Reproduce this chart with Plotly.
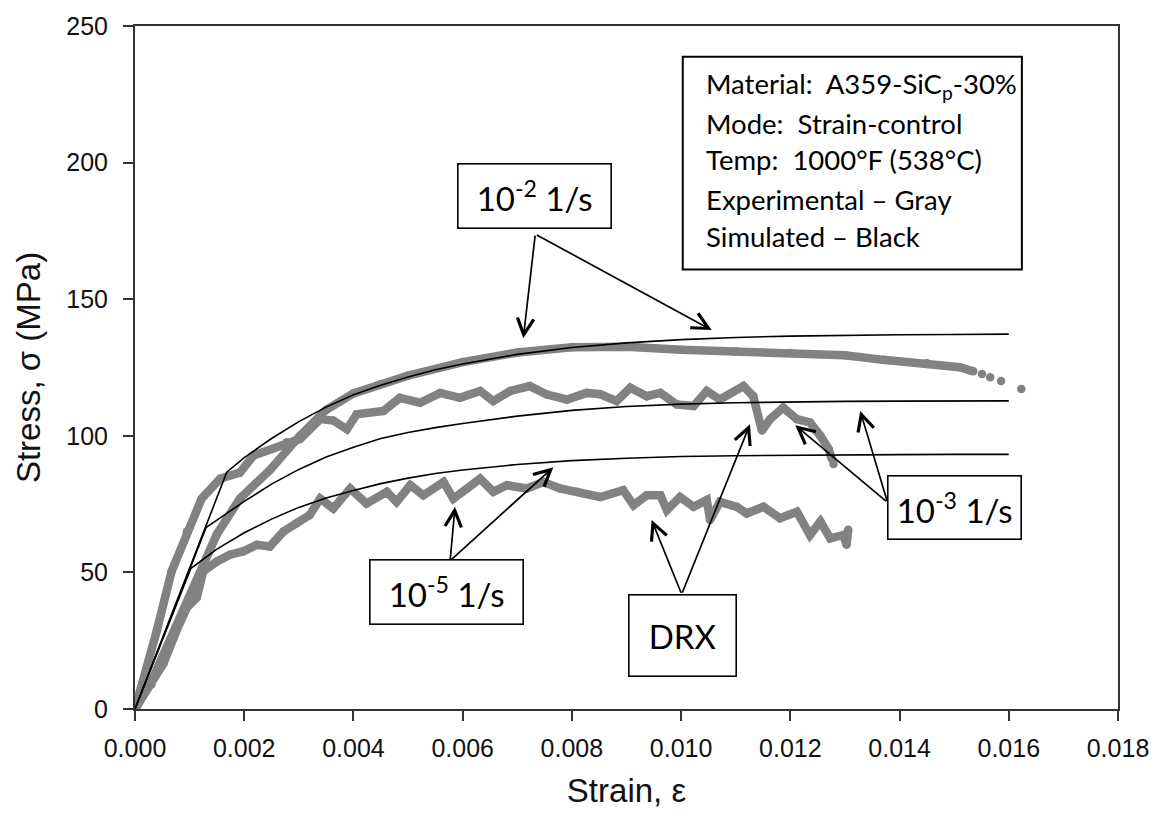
import plotly.graph_objects as go

# ---------------- data ----------------
# Simulated (black) curves
sim_e2_x = [0, 0.00168, 0.002, 0.0025, 0.003, 0.0035, 0.004, 0.0045, 0.005, 0.0055, 0.006, 0.007, 0.008,
            0.009, 0.010, 0.011, 0.012, 0.013, 0.014, 0.015, 0.016]
sim_e2_y = [0, 86.7, 92, 99, 105.2, 110.5, 115, 118.5, 121.5, 124.2, 126.3, 129.8, 132.3,
            134, 135.2, 136, 136.5, 136.8, 137, 137.1, 137.2]

sim_e3_x = [0, 0.0013, 0.0016, 0.002, 0.0025, 0.003, 0.0035, 0.004, 0.0045, 0.005, 0.0055, 0.006, 0.007,
            0.008, 0.009, 0.010, 0.011, 0.012, 0.013, 0.014, 0.015, 0.016]
sim_e3_y = [0, 66.4, 70.5, 76, 82.3, 87.7, 92.2, 95.8, 99, 101.2, 103, 104.5, 107.2,
            109.3, 110.7, 111.6, 112.1, 112.4, 112.6, 112.7, 112.8, 112.8]

sim_e5_x = [0, 0.00102, 0.0015, 0.002, 0.0025, 0.003, 0.0035, 0.004, 0.0045, 0.005, 0.0055, 0.006, 0.007,
            0.008, 0.009, 0.010, 0.011, 0.012, 0.013, 0.014, 0.015, 0.016]
sim_e5_y = [0, 51.4, 58.5, 64.5, 69.5, 73.8, 77.2, 80, 82.5, 84.5, 86.2, 87.5, 89.5,
            90.9, 91.8, 92.4, 92.7, 92.9, 93.0, 93.1, 93.2, 93.2]

# Experimental (gray) curves
exp_e2_x = [0, 0.0003, 0.0005, 0.00075, 0.001, 0.00125, 0.0015, 0.00192, 0.00247, 0.00302, 0.0035, 0.004,
            0.0045, 0.005, 0.006, 0.007, 0.008, 0.009, 0.010, 0.011, 0.012, 0.013, 0.0137, 0.0145,
            0.0151, 0.01535]
exp_e2_y = [0, 10, 19, 30, 41, 53, 64, 77, 87.5, 100, 109.5, 115.5,
            119, 122, 127, 130.5, 132.4, 132.6, 131.5, 130.9, 130.3, 129.5, 127.8, 126.6,
            125.1, 123.6]
exp_e2_tail_x = [0.01551, 0.01566, 0.01586, 0.01623]
exp_e2_tail_y = [122.6, 121.4, 120.1, 117.1]

exp_e3_x = [0, 0.0002, 0.0004, 0.00067, 0.00095, 0.00122, 0.00156, 0.00192, 0.00217, 0.00278, 0.00302,
            0.00339, 0.00363, 0.00388, 0.00406, 0.00455, 0.00485, 0.00522, 0.00559, 0.00595, 0.00632,
            0.00656, 0.00687, 0.00723, 0.00754, 0.00791, 0.00827, 0.00852, 0.00882, 0.00907, 0.00937,
            0.00962, 0.00992, 0.01023, 0.01047, 0.01071, 0.01114, 0.01132, 0.01148, 0.01163, 0.01187,
            0.01212, 0.01236, 0.01255, 0.0127, 0.01276]
exp_e3_y = [0, 14, 28.7, 50.4, 65, 77, 84.3, 86.5, 92.8, 97.6, 98.8,
            106.1, 105.6, 102.4, 107.9, 109.1, 113.9, 112.1, 115.7, 113.9, 116.4,
            112.7, 116.4, 118.2, 115.1, 113.3, 115.7, 115.2, 112.7, 117.6, 114.5,
            115.7, 111.5, 110.9, 116.4, 113.3, 118.2, 114.5, 101.9, 106.1, 110.3,
            106.1, 104.9, 100, 95.2, 91.5]
exp_e3_end_x = [0.01279]
exp_e3_end_y = [89.7]

exp_e5_x = [0, 0.0003, 0.00052, 0.00076, 0.00095, 0.00113, 0.00125, 0.0015, 0.00174, 0.00198, 0.00223,
            0.00247, 0.00272, 0.00296, 0.0032, 0.00339, 0.00363, 0.00394, 0.00424, 0.00461, 0.00479,
            0.00504, 0.00528, 0.00565, 0.00583, 0.00608, 0.00632, 0.00656, 0.00681, 0.00717, 0.00748,
            0.00778, 0.00809, 0.00852, 0.00894, 0.00913, 0.00937, 0.00962, 0.00974, 0.00998, 0.01023,
            0.01047, 0.01053, 0.01071, 0.01102, 0.0112, 0.01151, 0.01181, 0.01212, 0.01236, 0.01255,
            0.01273, 0.01297, 0.01303, 0.01306]
exp_e5_y = [0, 9, 16.6, 28.7, 37.1, 40.8, 50.4, 54, 56.5, 57.7, 60.1,
            59.5, 65, 68, 71, 77, 73.4, 80.7, 75.2, 79.5, 75.8,
            81.9, 78.2, 83.1, 77, 80.7, 84.3, 79.5, 81.9, 80.7, 83.1,
            80.7, 79.5, 77.6, 80.1, 74.6, 78.2, 78.2, 72.8, 77.6, 74,
            76.5, 69.2, 75.8, 74, 71.6, 74, 69.8, 72.2, 63.7, 68.6,
            62.5, 63.7, 60.1, 65.6]

x_ticks = [0.000, 0.002, 0.004, 0.006, 0.008, 0.010, 0.012, 0.014, 0.016, 0.018]
y_ticks = [0, 50, 100, 150, 200, 250]

info_lines = [
    "Material:\u00a0\u00a0A359-SiC<sub>p</sub>-30%",
    "Mode:\u00a0\u00a0Strain-control",
    "Temp:\u00a0\u00a01000°F (538°C)",
    "Experimental – Gray",
    "Simulated – Black",
]

# ---------------- figure ----------------
GRAY = "#828282"
fig = go.Figure()

for xs, ys in [(exp_e5_x, exp_e5_y), (exp_e3_x, exp_e3_y), (exp_e2_x, exp_e2_y)]:
    fig.add_trace(go.Scatter(x=xs, y=ys, mode="lines+markers",
                             line=dict(color=GRAY, width=8.5),
                             marker=dict(color=GRAY, size=8.5),
                             showlegend=False, hoverinfo="skip"))
for xs, ys in [(exp_e2_tail_x, exp_e2_tail_y), (exp_e3_end_x, exp_e3_end_y)]:
    fig.add_trace(go.Scatter(x=xs, y=ys, mode="markers",
                             marker=dict(color=GRAY, size=8.5),
                             showlegend=False, hoverinfo="skip"))

for xs, ys in [(sim_e2_x, sim_e2_y), (sim_e3_x, sim_e3_y), (sim_e5_x, sim_e5_y)]:
    fig.add_trace(go.Scatter(x=xs, y=ys, mode="lines",
                             line=dict(color="black", width=1.6),
                             showlegend=False, hoverinfo="skip"))

LABEL_FONT = dict(family="Lato, Carlito, Calibri, sans-serif", size=33, color="black")
INFO_FONT = dict(family="Lato, Carlito, Calibri, sans-serif", size=27.5, color="black")

def label_box(x, y, text, w, h):
    fig.add_annotation(x=x, y=y, xref="x", yref="y", text=text, showarrow=False,
                       font=LABEL_FONT, bordercolor="black", borderwidth=1.6,
                       bgcolor="white", width=w, height=h, borderpad=0,
                       xanchor="center", yanchor="middle")

def arrow(x0, y0, x1, y1):
    fig.add_annotation(x=x1, y=y1, ax=x0, ay=y0, xref="x", yref="y", axref="x", ayref="y",
                       text="", showarrow=True, arrowhead=5, arrowsize=1.9, arrowwidth=1.7,
                       arrowcolor="black", standoff=0, startstandoff=0)

# 10^-2 label
arrow(0.00733, 173.8, 0.00711, 135.7)
arrow(0.00733, 173.8, 0.01056, 138.7)
label_box(0.00731, 187.6, "10<sup>-2</sup> 1/s", 152, 63)

# 10^-5 label
arrow(0.00577, 54.3, 0.00586, 74.0)
arrow(0.00577, 54.3, 0.00766, 88.5)
label_box(0.00571, 43.0, "10<sup>-5</sup> 1/s", 152, 63)

# DRX label
arrow(0.01001, 42.0, 0.00946, 69.2)
arrow(0.01001, 42.0, 0.01126, 104.2)
label_box(0.01002, 27.0, "DRX", 106, 80)

# 10^-3 label
arrow(0.01378, 75.6, 0.01209, 103.9)
arrow(0.01378, 75.6, 0.01328, 109.1)
label_box(0.01501, 73.8, "10<sup>-3</sup> 1/s", 132, 62)

# info box
fig.add_shape(type="rect", xref="x", yref="y", x0=0.01003, x1=0.01624, y0=160.9, y1=238.7,
              line=dict(color="black", width=2), fillcolor="white", layer="above")
info_y = [228.3, 214.3, 201.0, 186.5, 173.0]
for t, yy in zip(info_lines, info_y):
    fig.add_annotation(x=0.01041, y=yy, xref="x", yref="y", text=t, showarrow=False,
                       font=INFO_FONT, xanchor="left", yanchor="middle")

AX_FONT = dict(family="Liberation Sans, Arial, sans-serif", size=25, color="#111")
TITLE_FONT = dict(family="Liberation Sans, Arial, sans-serif", size=33, color="#111")
fig.update_layout(
    width=1161, height=829,
    margin=dict(l=135, r=43, t=20, b=120),
    paper_bgcolor="white", plot_bgcolor="white",
    xaxis=dict(range=[0, 0.018], tickvals=x_ticks, tickformat=".3f",
               showline=True, mirror=True, linecolor="#333", linewidth=2,
               ticks="outside", ticklen=10, tickwidth=1.5, tickcolor="#333",
               showgrid=False, zeroline=False, tickfont=AX_FONT, ticklabelstandoff=6,
               title=dict(text="Strain, ε", font=TITLE_FONT, standoff=18)),
    yaxis=dict(range=[0, 250], tickvals=y_ticks,
               showline=True, mirror=True, linecolor="#333", linewidth=2,
               ticks="outside", ticklen=10, tickwidth=1.5, tickcolor="#333",
               showgrid=False, zeroline=False, tickfont=AX_FONT, ticklabelstandoff=10,
               title=dict(text="Stress, σ (MPa)", font=TITLE_FONT, standoff=16)),
)

fig.write_html("out.html")
